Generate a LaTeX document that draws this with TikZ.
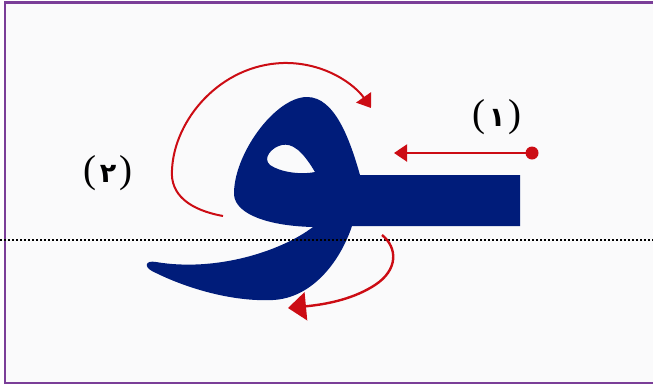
\documentclass[tikz,border=0pt]{standalone}
\usepackage{fontspec}
\usepackage{xcolor}
\usepackage{tikz}
\usetikzlibrary{arrows.meta}
\TeXXeTstate=1
\newfontfamily\arabicfont[Script=Arabic,UprightFont=* Bold]{DejaVu Sans}
\newfontfamily\parenfont{Liberation Serif}
\definecolor{letterblue}{RGB}{0,28,122}
\definecolor{strokered}{RGB}{204,12,20}
\definecolor{framepurple}{RGB}{122,62,152}
\definecolor{paper}{RGB}{250,250,251}
\newcommand{\numlabel}[1]{%
  {\parenfont\fontsize{39}{41}\selectfont(}\kern3pt%
  {\arabicfont\fontsize{27}{30}\selectfont\beginR #1\endR}\kern3pt%
  {\parenfont\fontsize{39}{41}\selectfont)}}

\begin{document}
\begin{tikzpicture}[x=1pt,y=-1pt,
  pathline/.style={strokered, line width=2pt},
  guideline/.style={black, line width=1.7pt, dash pattern=on 1.8pt off 2.2pt}]
  \useasboundingbox (0,0) rectangle (653,386);
  % Paper and frame
  \fill[white] (0,0) rectangle (653,386);
  \draw[framepurple, line width=2.6pt, fill=paper] (4.8,2.2) rectangle (680,383);

  % The letter: head with hole, tail, and joining bar
  \fill[letterblue, even odd rule]
    (520,175) -- (520,226) -- (352,226)
    .. controls (340,262) and (312,298) .. (273,300)
    .. controls (232,302) and (185,288) .. (152,271)
    .. controls (144,267) and (145,260) .. (156,262)
    .. controls (215,272) and (280,252) .. (313,227)
    .. controls (270,226) and (236,215) .. (234,195)
    .. controls (233,155) and (275,97) .. (307,97)
    .. controls (335,97) and (350,140) .. (360,175)
    -- cycle
    % hole
    (315,172) .. controls (302,150) and (292,143) .. (282,145)
    .. controls (272,147) and (262,158) .. (270,165)
    .. controls (280,172) and (300,175) .. (315,172) -- cycle;

  % Writing line
  \draw[guideline] (0,240) -- (653,240);

  % Stroke one: the bar, drawn from the right
  \coordinate (barstart) at (532,153);
  \coordinate (barend) at (394,153);
  \draw[pathline, -{Triangle[length=13pt,width=17pt]}] (barstart) -- (barend);
  \fill[strokered] (barstart) circle (6.5);

  % Stroke two: round the head, then down the tail
  \coordinate (loopstart) at (223,216);
  \coordinate (loopend) at (371,108);
  \draw[pathline, -{Triangle[length=13pt,width=18pt]}] (loopstart)
    .. controls (190,210) and (170,195) .. (172,170)
    .. controls (174,120) and (220,65) .. (283,63)
    .. controls (325,62) and (355,85) .. (loopend);
  \coordinate (tailstart) at (382,235);
  \coordinate (tailend) at (288,308);
  \draw[pathline, line width=2.4pt, -{Triangle[length=18pt,width=28pt]}] (tailstart)
    .. controls (398,248) and (398,270) .. (375,285)
    .. controls (355,298) and (330,304) .. (tailend);

  % Labels
  \node[anchor=base, inner sep=0pt] (labelone) at (497,126) {\numlabel{١}};
  \node[anchor=base, inner sep=0pt] (labeltwo) at (108,182) {\numlabel{٢}};
\end{tikzpicture}
\end{document}
